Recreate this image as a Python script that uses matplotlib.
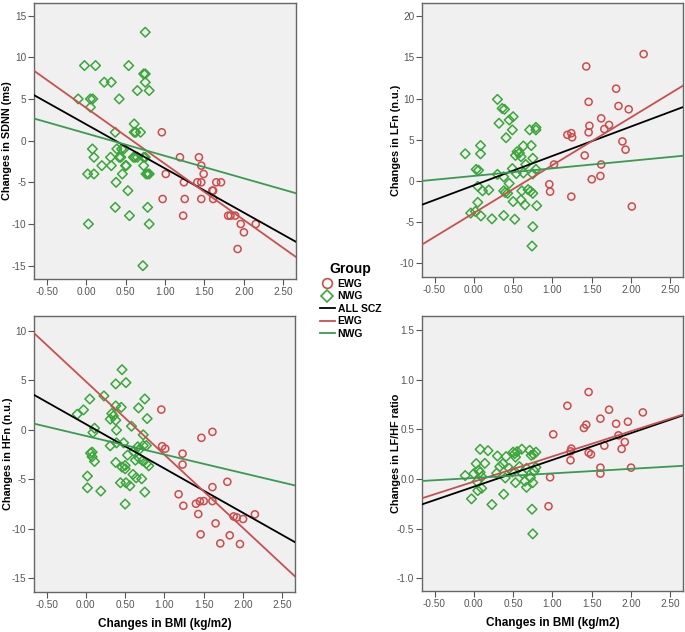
import numpy as np
import matplotlib
matplotlib.use("Agg")
import matplotlib.pyplot as plt
from matplotlib.lines import Line2D

plt.rcParams['font.family'] = ['Liberation Sans', 'DejaVu Sans']

# ---- data ----
# Panel 1: SDNN
sdnn_ewg_x = [0.96, 1.01, 0.97, 1.19, 1.24, 1.25, 1.23, 1.43, 1.46, 1.49, 1.41, 1.46, 1.46,
              1.60, 1.61, 1.61, 1.65, 1.71, 1.80, 1.83, 1.89, 1.96, 2.00, 1.92, 2.15]
sdnn_ewg_y = [1, -4, -7, -2, -5, -7, -9, -2, -3, -4, -5, -5, -7,
              -6, -6, -7, -5, -5, -9, -9, -9, -10, -11, -13, -10]
sdnn_nwg_x = [0.75, -0.02, 0.12, 0.54, 0.23, 0.32, 0.73, 0.75, 0.75, 0.80, 0.65, -0.10, 0.055,
              0.085, 0.055, 0.42, 0.61, 0.61, 0.63, 0.69, 0.37, 0.08, 0.10, 0.20, 0.02, 0.10,
              0.31, 0.32, 0.39, 0.42, 0.44, 0.45, 0.48, 0.50, 0.51, 0.46, 0.38, 0.53, 0.60,
              0.62, 0.65, 0.73, 0.75, 0.73, 0.76, 0.78, 0.80, 0.37, 0.78, 0.55, 0.80, 0.03, 0.72]
sdnn_nwg_y = [13, 9, 9, 9, 7, 7, 8, 8, 7, 6, 6, 5, 5,
              5, 4, 5, 2, 1, 1, 1, 1, -1, -2, -3, -4, -4,
              -2, -3, -1, -2, -2, -1, -1, -3, -3, -4, -5, -6, -2,
              -2, -2, -2, -2, -3, -4, -4, -4, -8, -8, -9, -10, -10, -15]

# Panel 2: LFn
lfn_ewg_x = [2.16, 1.43, 1.46, 1.81, 1.84, 1.97, 1.62, 1.47, 1.72, 1.66, 1.19, 1.24, 1.25,
             1.46, 1.89, 1.93, 1.41, 1.02, 1.62, 0.96, 0.97, 1.61, 1.50, 1.24, 2.01]
lfn_ewg_y = [15.4, 13.9, 9.6, 11.2, 9.1, 8.7, 7.6, 6.7, 6.8, 6.3, 5.6, 5.8, 5.3,
             5.9, 4.8, 3.8, 3.1, 2.0, 2.0, -0.4, -1.3, 0.6, 0.2, -1.9, -3.1]
lfn_nwg_x = [0.30, 0.36, 0.39, 0.32, 0.45, 0.50, 0.49, 0.41, 0.71, 0.79, 0.79, -0.11, 0.085,
             0.085, 0.03, 0.06, -0.04, 0.02, 0.05, 0.09, 0.23, 0.05, 0.11, 0.19, 0.30, 0.38,
             0.38, 0.40, 0.43, 0.45, 0.38, 0.52, 0.49, 0.53, 0.55, 0.58, 0.60, 0.63, 0.66,
             0.54, 0.63, 0.50, 0.60, 0.65, 0.61, 0.69, 0.72, 0.73, 0.75, 0.75, 0.79, 0.75,
             0.80, 0.75, 0.74]
lfn_nwg_y = [9.9, 8.8, 8.7, 7.0, 7.4, 7.8, 6.2, 5.25, 6.2, 6.5, 6.2, 3.3, 4.3,
             3.3, 1.4, 1.3, -3.9, -3.7, -2.6, -4.25, -4.6, -0.65, -1.2, -1.1, 0.8, 0.5,
             -1.2, -1.4, -1.5, -0.3, -4.2, -4.65, 1.5, 3.1, 3.55, 3.4, 2.95, 4.25, 2.0,
             0.9, 0.97, -2.5, -2.3, -2.9, -1.2, -1.05, -1.25, 4.3, 2.75, 0.85, 1.4, -1.5,
             -3.0, -5.55, -7.9]

# Panel 3: HFn
hfn_ewg_x = [0.96, 1.47, 1.61, 0.97, 1.01, 1.23, 1.23, 1.18, 1.24, 1.61, 1.80, 1.40, 1.45,
             1.50, 1.61, 1.43, 1.65, 1.88, 1.92, 2.00, 2.15, 1.46, 1.71, 1.83, 1.96]
hfn_ewg_y = [2.05, -0.8, -0.2, -1.65, -1.9, -2.4, -3.5, -6.5, -7.66, -5.78, -5.24, -7.46, -7.22,
             -7.19, -7.19, -8.5, -9.44, -8.74, -8.84, -9.0, -8.53, -10.55, -11.46, -10.65, -11.53]
hfn_nwg_x = [0.46, 0.38, 0.51, 0.05, 0.23, 0.75, -0.11, -0.03, 0.33, 0.35, 0.31, 0.38, 0.38,
             0.45, 0.67, 0.78, 0.58, 0.11, 0.09, 0.39, 0.73, 0.39, 0.48, 0.31, 0.73, 0.77,
             0.66, 0.68, 0.61, 0.06, 0.08, 0.08, 0.11, 0.53, 0.63, 0.68, 0.38, 0.50, 0.46,
             0.50, 0.72, 0.77, 0.80, 0.02, 0.60, 0.64, 0.71, 0.44, 0.51, 0.56, 0.02, 0.19,
             0.75, 0.50]
hfn_nwg_y = [6.08, 4.64, 4.77, 3.12, 3.43, 3.12, 1.58, 2.02, 1.65, 1.41, 1.08, 0.97, 2.42,
             2.28, 2.22, 1.14, 0.37, 0.17, -0.27, -0.03, -0.5, -1.31, -1.31, -1.61, -1.58, -1.58,
             -1.71, -1.98, -2.15, -2.35, -2.25, -2.72, -3.19, -2.55, -3.06, -2.86, -3.29, -3.6, -3.76,
             -3.93, -3.12, -3.39, -3.63, -4.67, -4.5, -4.84, -4.94, -5.34, -5.34, -5.65, -5.85, -6.18,
             -6.28, -7.49]

# Panel 4: LF/HF ratio
ratio_ewg_x = [1.46, 1.19, 1.72, 2.15, 1.61, 1.96, 1.81, 1.43, 1.40, 1.01, 1.84, 1.92, 1.66,
               1.24, 1.23, 1.88, 1.46, 1.49, 1.23, 1.61, 2.00, 1.61, 0.97, 0.95]
ratio_ewg_y = [0.875, 0.737, 0.697, 0.67, 0.607, 0.576, 0.556, 0.546, 0.513, 0.449, 0.439, 0.372, 0.335,
               0.305, 0.278, 0.302, 0.265, 0.248, 0.188, 0.114, 0.114, 0.054, 0.017, -0.275]
ratio_nwg_x = [0.08, 0.18, -0.11, 0.03, 0.06, 0.08, 0.00, 0.04, 0.10, 0.05, 0.10, -0.03, 0.23,
               0.38, 0.30, 0.33, 0.37, 0.41, 0.29, 0.40, 0.45, 0.49, 0.53, 0.52, 0.55, 0.53,
               0.61, 0.58, 0.62, 0.67, 0.71, 0.73, 0.76, 0.79, 0.65, 0.67, 0.72, 0.77, 0.79,
               0.75, 0.74, 0.75, 0.50, 0.14]
ratio_nwg_y = [0.298, 0.285, 0.034, 0.154, 0.087, 0.067, 0.054, -0.027, 0.023, -0.117, -0.094, -0.2, -0.258,
               -0.154, 0.231, 0.124, 0.154, 0.225, 0.057, 0.01, 0.107, 0.07, -0.037, 0.255, 0.275, 0.22,
               0.3, 0.124, 0.054, 0.107, 0.288, 0.238, 0.248, 0.27, -0.023, -0.084, 0.013, 0.08, 0.117,
               -0.037, -0.305, -0.553, 0.27, 0.157]

# regression fits (intercept, slope): ALL SCZ, EWG, NWG
sdnn_fits = [(1.96, -5.30), (3.94, -6.73), (0.87, -2.70)]
lfn_fits = [(-0.53, 3.57), (-3.89, 5.81), (0.61, 0.92)]
hfn_fits = [(0.58, -4.48), (4.89, -7.40), (-0.61, -1.88)]
ratio_fits = [(-0.078, 0.270), (-0.027, 0.254), (0.010, 0.046)]

y_labels = ["Changes in SDNN (ms)", "Changes in LFn (n.u.)",
            "Changes in HFn (n.u.)", "Changes in LF/HF ratio"]
x_ticks = [-0.5, 0.0, 0.5, 1.0, 1.5, 2.0, 2.5]
y_ticks = [[-15, -10, -5, 0, 5, 10, 15],
           [-10, -5, 0, 5, 10, 15, 20],
           [-15, -10, -5, 0, 5, 10],
           [-1.0, -0.5, 0.0, 0.5, 1.0, 1.5]]
y_lims = [(-16.6, 16.5), (-11.66, 21.6), (-16.37, 11.5), (-1.128, 1.64)]

red_pt = '#cf4a4a'
green_pt = '#3aa63a'
red_ln = '#c85050'
green_ln = '#3a9a50'

panels = [
    (sdnn_ewg_x, sdnn_ewg_y, sdnn_nwg_x, sdnn_nwg_y, sdnn_fits),
    (lfn_ewg_x, lfn_ewg_y, lfn_nwg_x, lfn_nwg_y, lfn_fits),
    (hfn_ewg_x, hfn_ewg_y, hfn_nwg_x, hfn_nwg_y, hfn_fits),
    (ratio_ewg_x, ratio_ewg_y, ratio_nwg_x, ratio_nwg_y, ratio_fits),
]

# axes rectangles in figure fractions
boxes = [[0.0496, 0.5585, 0.3825, 0.4367],
         [0.616, 0.5617, 0.381, 0.4335],
         [0.0496, 0.0633, 0.381, 0.4367],
         [0.616, 0.0649, 0.381, 0.435]]

fig = plt.figure(figsize=(6.85, 6.32), dpi=100)

for i, (ex, ey, nx, ny, fits) in enumerate(panels):
    ax = fig.add_axes(boxes[i])
    ax.set_facecolor('#f0f0f0')
    ax.set_xlim(-0.66, 2.66)
    ax.set_ylim(*y_lims[i])

    ax.scatter(nx, ny, marker='D', s=24, facecolors='none', edgecolors=green_pt, linewidths=1.1, zorder=2)
    ax.scatter(ex, ey, marker='o', s=26, facecolors='none', edgecolors=red_pt, linewidths=1.1, zorder=2)

    xs = np.array(ax.get_xlim())
    colors = ['black', red_ln, green_ln]
    for (a, b), c in zip(fits, colors):
        ax.plot(xs, a + b * xs, color=c, lw=1.3, zorder=3)

    ax.set_xticks(x_ticks)
    ax.set_xticklabels(["%.2f" % t for t in x_ticks])
    ax.set_yticks(y_ticks[i])
    if i == 3:
        ax.set_yticklabels(["%.1f" % t for t in y_ticks[i]])
    else:
        ax.set_yticklabels(["%d" % t for t in y_ticks[i]])
    ax.tick_params(labelsize=7.2, labelcolor='#555555', color='#555555', length=4, width=0.8, pad=1.5)
    for s in ax.spines.values():
        s.set_color('#666666')
        s.set_linewidth(1.0)

    ax.set_ylabel(y_labels[i], fontsize=7.8, fontweight='bold')
    ax.yaxis.set_label_coords(-0.082, 0.5)
    if i >= 2:
        ax.set_xlabel("Changes in BMI (kg/m2)", fontsize=8.5, fontweight='bold', labelpad=6)

# legend between the columns
handles = [
    Line2D([], [], marker='o', ls='none', mfc='none', mec=red_pt, mew=1.2, ms=7),
    Line2D([], [], marker='D', ls='none', mfc='none', mec=green_pt, mew=1.2, ms=6.5),
    Line2D([], [], color='black', lw=1.3),
    Line2D([], [], color=red_ln, lw=1.3),
    Line2D([], [], color=green_ln, lw=1.3),
]
labels = ["EWG", "NWG", "ALL SCZ", "EWG", "NWG"]
leg = fig.legend(handles, labels, title="Group", loc='upper left',
                 bbox_to_anchor=(0.461, 0.592), frameon=False,
                 prop={'size': 7.5, 'weight': 'bold'}, handlelength=1.4,
                 handletextpad=0.3, labelspacing=0.25, borderaxespad=0)
leg.get_title().set_fontweight('bold')
leg.get_title().set_fontsize(10)

fig.savefig("out.png", dpi=100)
